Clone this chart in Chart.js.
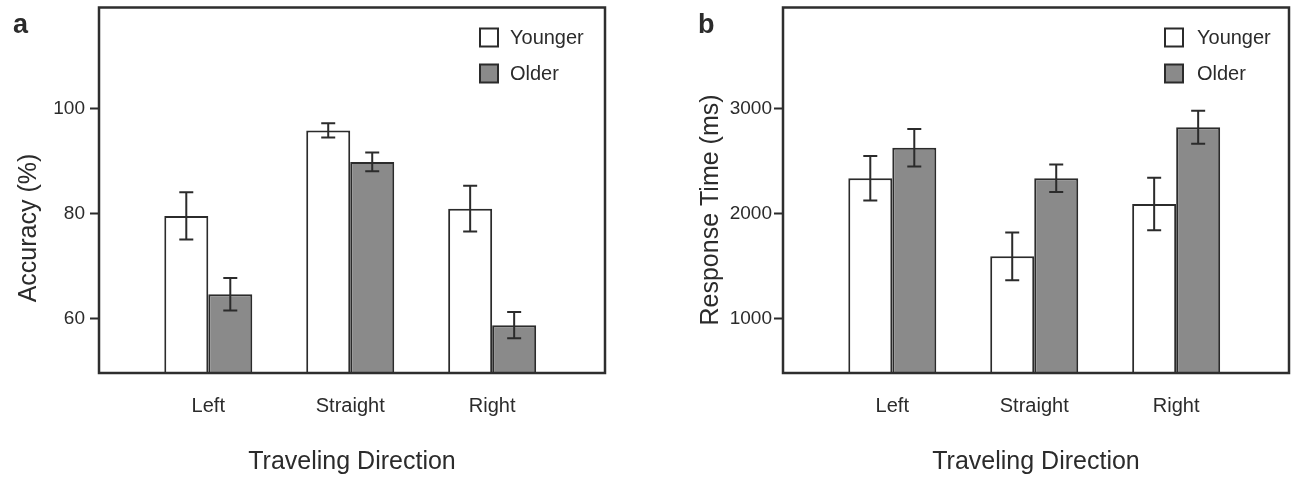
<!DOCTYPE html>
<html>
<head>
<meta charset="utf-8">
<script src="https://cdn.jsdelivr.net/npm/chart.js@4"></script>
<style>
	body { margin: 0; background: #fff; }
	#wrapA { position: absolute; left: 0; top: 0; width: 640px; height: 478px; }
	#wrapB { position: absolute; left: 640px; top: 0; width: 651px; height: 478px; }
</style>
</head>
<body>
<div id="wrapA"><canvas id="chartA" width="640" height="478"></canvas></div>
<div id="wrapB"><canvas id="chartB" width="651" height="478"></canvas></div>
<script>
var directions = ["Left", "Straight", "Right"];
var groups = ["Younger", "Older"];

var accYounger = [79.5, 95.8, 80.9];
var accOlder = [64.6, 89.8, 58.7];
var accYoungerErr = [4.5, 1.35, 4.35];
var accOlderErr = [3.1, 1.8, 2.5];
var accTicks = [60, 80, 100];

var rtYounger = [2335, 1592, 2090];
var rtOlder = [2626, 2335, 2820];
var rtYoungerErr = [212, 227, 250];
var rtOlderErr = [178, 131, 157];
var rtTicks = [1000, 2000, 3000];

var fontFam = '"Liberation Sans", Arial, Helvetica, sans-serif';
var ink = "#2b2b2b";
Chart.defaults.font.family = fontFam;
Chart.defaults.color = ink;

// error bars, frame, legend, panel letter and y title
var panelPlugin = {
	id: "panel",
	afterDatasetsDraw: function (chart, args, opts) {
		var ctx = chart.ctx;
		var area = chart.chartArea;
		var yScale = chart.scales.y;
		ctx.save();

		ctx.strokeStyle = ink;
		ctx.lineWidth = 2;
		chart.data.datasets.forEach(function (ds, di) {
			var meta = chart.getDatasetMeta(di);
			meta.data.forEach(function (bar, i) {
				var v = ds.data[i].y, e = ds.errorBars[i];
				var top = yScale.getPixelForValue(v + e);
				var bot = yScale.getPixelForValue(v - e);
				ctx.beginPath();
				ctx.moveTo(bar.x, top); ctx.lineTo(bar.x, bot);
				ctx.moveTo(bar.x - 7, top); ctx.lineTo(bar.x + 7, top);
				ctx.moveTo(bar.x - 7, bot); ctx.lineTo(bar.x + 7, bot);
				ctx.stroke();
			});
		});

		ctx.lineWidth = 2.5;
		ctx.strokeStyle = "#2e2e2e";
		ctx.strokeRect(area.left, area.top, area.right - area.left, area.bottom - area.top);

		// legend
		ctx.font = "20px " + fontFam;
		ctx.textBaseline = "middle";
		ctx.textAlign = "left";
		chart.data.datasets.forEach(function (ds, di) {
			var bx = area.right - opts.legendRight;
			var by = area.top + 21 + di * 36;
			ctx.fillStyle = ds.backgroundColor;
			ctx.fillRect(bx, by, 18, 18);
			ctx.lineWidth = 2;
			ctx.strokeStyle = ds.borderColor;
			ctx.strokeRect(bx, by, 18, 18);
			ctx.fillStyle = ink;
			ctx.fillText(ds.label, bx + 18 + opts.legendGap, by + 10);
		});

		ctx.font = "bold 27px " + fontFam;
		ctx.textBaseline = "alphabetic";
		ctx.fillText(opts.letter, opts.letterX, 33);

		ctx.translate(opts.titleX, opts.titleY);
		ctx.rotate(-Math.PI / 2);
		ctx.font = "25px " + fontFam;
		ctx.textAlign = "center";
		ctx.textBaseline = "middle";
		ctx.fillText(opts.yTitle, 0, 0);

		ctx.restore();
	}
};

function points(vals) {
	return vals.map(function (v, i) { return { x: i, y: v }; });
}

function makeChart(id, younger, older, youngerErr, olderErr, yMin, yMax, yTicks, p) {
	var ctx = document.getElementById(id).getContext("2d");
	return new Chart(ctx, {
		type: "bar",
		data: {
			datasets: [
				{
					label: groups[0],
					data: points(younger),
					errorBars: youngerErr,
					backgroundColor: "#ffffff",
					borderColor: ink,
					borderWidth: 2
				},
				{
					label: groups[1],
					data: points(older),
					errorBars: olderErr,
					backgroundColor: "#8a8a8a",
					borderColor: ink,
					borderWidth: 2
				}
			]
		},
		options: {
			responsive: false,
			animation: false,
			categoryPercentage: 0.62,
			barPercentage: 1,
			layout: { padding: { left: 0, top: 7.5, right: p.padRight, bottom: 0 } },
			plugins: {
				legend: { display: false },
				tooltip: { enabled: false },
				panel: p
			},
			scales: {
				x: {
					type: "linear",
					offset: false,
					min: -0.77,
					max: 2.795,
					grid: { display: false, drawTicks: false },
					border: { display: false },
					afterBuildTicks: function (scale) {
						scale.ticks = directions.map(function (d, i) { return { value: i }; });
					},
					afterFit: function (scale) {
						scale.height = 105;
						scale.paddingLeft = 0;
						scale.paddingRight = 0;
					},
					ticks: {
						autoSkip: false,
						maxRotation: 0,
						padding: 21,
						font: { size: 20 },
						callback: function (v, i) { return directions[i]; }
					},
					title: {
						display: true,
						text: "Traveling Direction",
						font: { size: 25 },
						padding: { top: 0, bottom: 1 }
					}
				},
				y: {
					min: yMin,
					max: yMax,
					afterBuildTicks: function (scale) {
						scale.ticks = yTicks.map(function (t) { return { value: t }; });
					},
					afterFit: function (scale) {
						scale.width = p.yWidth;
						scale.paddingTop = 0;
						scale.paddingBottom = 0;
					},
					grid: {
						drawOnChartArea: false,
						drawTicks: true,
						tickLength: 9,
						tickWidth: 2,
						tickColor: ink
					},
					border: { display: false },
					ticks: {
						padding: p.tickPad,
						font: { size: 19 },
						callback: function (v) { return String(v); }
					}
				}
			}
		},
		plugins: [panelPlugin]
	});
}

makeChart("chartA", accYounger, accOlder, accYoungerErr, accOlderErr, 49.6, 119.2, accTicks, {
	padRight: 35, yWidth: 99, tickPad: 5, legendRight: 125, legendGap: 12,
	letter: "a", letterX: 13, titleX: 29, titleY: 228, yTitle: "Accuracy (%)"
});

makeChart("chartB", rtYounger, rtOlder, rtYoungerErr, rtOlderErr, 482, 3960, rtTicks, {
	padRight: 2, yWidth: 143, tickPad: 2, legendRight: 124, legendGap: 14,
	letter: "b", letterX: 58, titleX: 71, titleY: 210, yTitle: "Response Time (ms)"
});
</script>
</body>
</html>
